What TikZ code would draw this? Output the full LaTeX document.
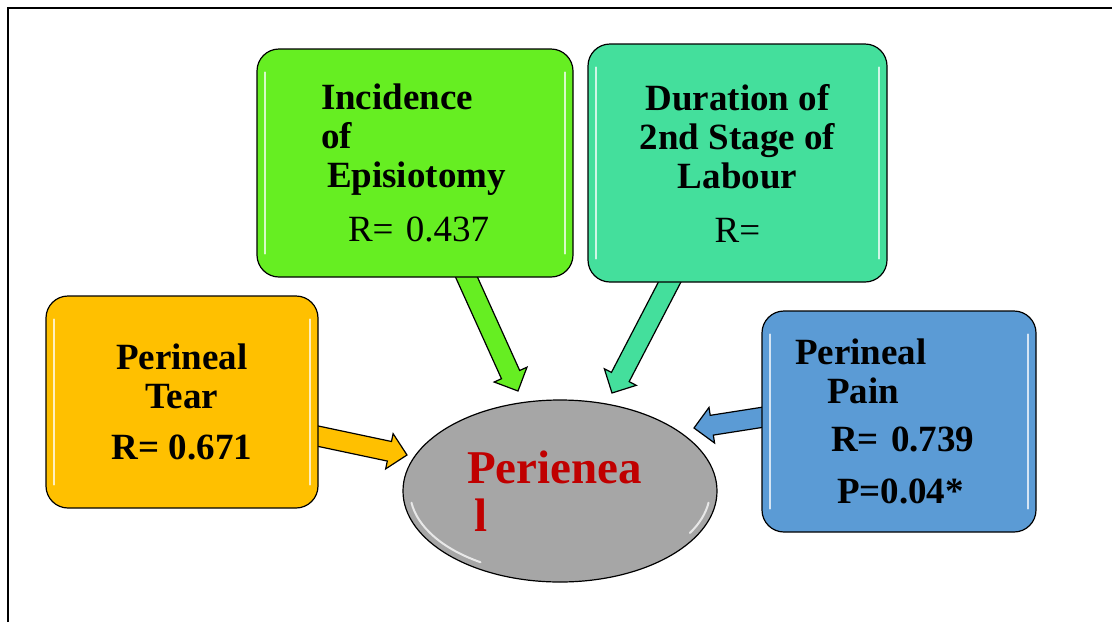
\documentclass[tikz,border=0pt]{standalone}
\usepackage{fontspec}
\setmainfont{Liberation Serif}
\usetikzlibrary{shapes.geometric,calc}

\pgfdeclarelayer{background}
\pgfsetlayers{background,main}

\definecolor{tearcol}{HTML}{FFC000}
\definecolor{episcol}{HTML}{66EE22}
\definecolor{durcol}{HTML}{44DF9C}
\definecolor{paincol}{HTML}{5B9BD5}
\definecolor{corecol}{HTML}{A6A6A6}
\definecolor{coretext}{HTML}{C00000}

% block arrow: fill colour, start, tip
\newcommand{\blockarrow}[3]{%
  \coordinate (ba-h) at ($(#3)!18pt!(#2)$);
  \draw[arrowline, fill=#1]
    ($(#2)!10pt!90:(#3)$) -- ($(ba-h)!10pt!-90:(#2)$) -- ($(ba-h)!18pt!-90:(#2)$)
    -- (#3) -- ($(ba-h)!18pt!90:(#2)$) -- ($(ba-h)!10pt!90:(#2)$)
    -- ($(#2)!10pt!-90:(#3)$) -- cycle;
}

\begin{document}
\begin{tikzpicture}[x=1pt,y=-1pt,
  box/.style={draw=black, line width=1.2pt, rounded corners=22pt, fill=#1,
    inner sep=0pt, font=\fontsize{37}{39}\selectfont\bfseries},
  arrowline/.style={draw=black, line width=1.2pt, line join=miter},
  gloss/.style={white, line width=2pt, line cap=round, opacity=0.75}]

\useasboundingbox (0,0) rectangle (1112,622);

% Frame
\draw[line width=1.5pt] (8,622) -- (8,8) -- (1112,8);

% Boxes
\node[box=tearcol, minimum width=272pt, minimum height=212pt, align=center]
  (tear) at (182,402) {Perineal\\Tear\\[12pt]R= 0.671};
\node[box=episcol, minimum width=316pt, minimum height=228pt, text width=188pt, align=left]
  (epis) at (415,163) {Incidence\\of\\\hspace*{6pt}Episiotomy\\[15pt]\hspace*{27pt}\mdseries R= 0.437};
\node[box=durcol, minimum width=299pt, minimum height=238pt, align=center]
  (dur) at (737.5,163) {Duration of\\2nd Stage of\\Labour\\[15pt]\mdseries R=};
\node[box=paincol, minimum width=274pt, minimum height=221pt, text width=208pt, align=left]
  (pain) at (899,421.5) {Perineal\\\hspace*{32pt}Pain\\[9pt]\hspace*{36pt}R= 0.739\\[13pt]\hspace*{42pt}P=0.04*};

% Centre
\node[ellipse, draw=black, line width=1.2pt, fill=corecol, minimum width=314pt,
  minimum height=182pt, inner sep=0pt, text width=186pt, align=left, text=coretext,
  font=\fontsize{47}{48}\selectfont\bfseries]
  (core) at (560,491) {Perienea\\\hspace*{7pt}l};

% Gloss
\foreach \b in {tear,epis,dur,pain}{
  \draw[gloss] ($(\b.north west)+(9,24)$) -- ($(\b.south west)+(9,-24)$);
  \draw[gloss] ($(\b.north east)+(-9,24)$) -- ($(\b.south east)+(-9,-24)$);
}
\draw[gloss] (core.center) ++(172:150 and 84) arc[start angle=172, end angle=122, x radius=150, y radius=84];
\draw[gloss] (core.center) ++(8:150 and 84) arc[start angle=8, end angle=30, x radius=150, y radius=84];

% Arrow ends
\coordinate (tearout) at ($(tear.east)+(-6,33)$);
\coordinate (teartip) at (407,455);
\coordinate (episout) at ($(epis.south)+(49,-6)$);
\coordinate (epistip) at (518,391);
\coordinate (durout) at ($(dur.south)+(-65,-6)$);
\coordinate (durtip) at (612,393);
\coordinate (painout) at ($(pain.west)+(6,-5)$);
\coordinate (paintip) at (694,428);

% Arrows
\begin{pgfonlayer}{background}
\blockarrow{tearcol}{tearout}{teartip}
\blockarrow{episcol}{episout}{epistip}
\blockarrow{durcol}{durout}{durtip}
\blockarrow{paincol}{painout}{paintip}
\end{pgfonlayer}

\end{tikzpicture}
\end{document}
